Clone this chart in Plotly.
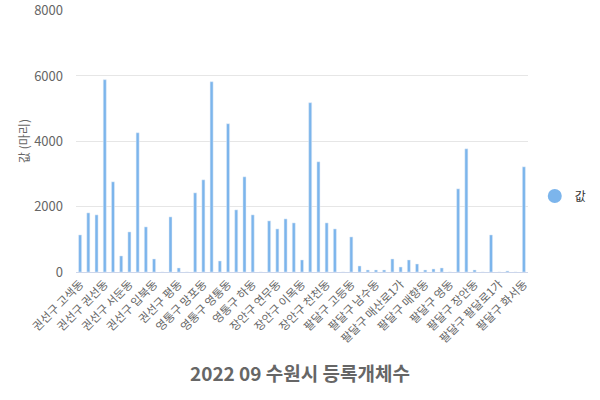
import plotly.graph_objects as go

# 2022년 9월 수원시 법정동별 등록 개체수
dongs = [
    "권선구 고색동", "권선구 곡반정동", "권선구 구운동", "권선구 권선동", "권선구 금곡동",
    "권선구 대황교동", "권선구 서둔동", "권선구 세류동", "권선구 오목천동", "권선구 입북동",
    "권선구 장지동", "권선구 탑동", "권선구 평동", "권선구 평리동", "권선구 호매실동",
    "영통구 망포동", "영통구 매탄동", "영통구 신동", "영통구 영통동", "영통구 원천동",
    "영통구 이의동", "영통구 하동",
    "장안구 상광교동", "장안구 송죽동", "장안구 연무동", "장안구 영화동", "장안구 율전동",
    "장안구 이목동", "장안구 정자동", "장안구 조원동", "장안구 천천동", "장안구 파장동",
    "장안구 하광교동",
    "팔달구 고등동", "팔달구 교동", "팔달구 구천동", "팔달구 남수동", "팔달구 남창동",
    "팔달구 매교동", "팔달구 매산로1가", "팔달구 매산로2가", "팔달구 매산로3가", "팔달구 매향동",
    "팔달구 북수동", "팔달구 신풍동", "팔달구 영동", "팔달구 우만동", "팔달구 인계동",
    "팔달구 장안동", "팔달구 중동", "팔달구 지동", "팔달구 팔달로1가", "팔달구 팔달로2가",
    "팔달구 팔달로3가", "팔달구 화서동",
]
counts = [
    1134, 1809, 1748, 5887, 2760, 491, 1226, 4262, 1380, 399,
    0, 1686, 123, 0, 2422,
    2821, 5825, 337, 4538, 1901, 2913, 1748,
    0, 1564, 1318, 1625, 1502, 368, 5182, 3373, 1502, 1318, 0,
    1073, 184, 61, 61, 61, 399, 153, 368, 245, 61,
    92, 123, 0, 2545, 3771, 61, 0, 1134, 0, 31, 0, 3219,
]
tick_labels = dongs[::3]

bar_color = "#7cb5ec"
font_kr = "Noto Sans CJK KR"

fig = go.Figure()
fig.add_trace(go.Bar(x=dongs, y=counts, marker_color=bar_color, showlegend=False,
                     name="값"))
# legend entry drawn as a round marker
fig.add_trace(go.Scatter(x=[None], y=[None], mode="markers", name="값",
                         marker=dict(symbol="circle", size=14, color=bar_color)))

fig.update_layout(
    width=600, height=400,
    margin=dict(l=76, r=72, t=10, b=128, autoexpand=False),
    paper_bgcolor="white", plot_bgcolor="white",
    font=dict(family=font_kr, size=12, color="#666666"),
    bargap=0.63,
    title=dict(text="<b>2022 09 수원시 등록개체수</b>", x=0.5, xanchor="center",
               y=0.065, yanchor="middle", yref="container",
               font=dict(size=19, color="#666666", family=font_kr)),
    legend=dict(x=1.015, y=0.29, xanchor="left", yanchor="middle",
                font=dict(size=12, color="#333333"), itemsizing="trace",
                itemwidth=30),
    xaxis=dict(tickmode="array", tickvals=tick_labels, ticktext=tick_labels,
               tickangle=-45, showgrid=False, showline=True, linecolor="#ccd6eb",
               linewidth=1, ticks="", ticklen=0, automargin=False,
               tickfont=dict(size=11.5, color="#666666")),
    yaxis=dict(range=[0, 8020], tickvals=[0, 2000, 4000, 6000, 8000],
               showgrid=True, gridcolor="#e6e6e6", automargin=False,
               zeroline=False, showline=False, ticks="", ticklen=0,
               ticklabelstandoff=12,
               tickfont=dict(size=13, color="#666666"),
               title=dict(text="값 (마리)", font=dict(size=12, color="#666666"),
                          standoff=1)),
)

# page body has a default 8px margin; drop it so the chart sits at the corner
fig.write_html("out.html", config={"displayModeBar": False},
               post_script="document.body.style.margin='0';")
